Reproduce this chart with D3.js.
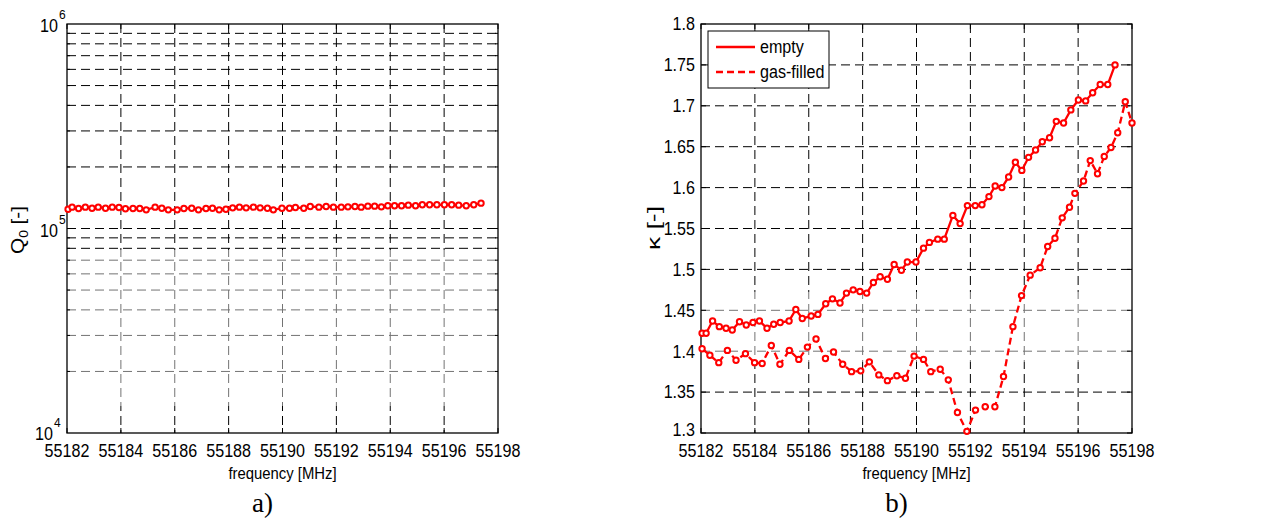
<!DOCTYPE html>
<html lang="en">
<head>
<meta charset="UTF-8">
<title>Q0 and kappa vs frequency</title>
<style>
  body { margin: 0; background: #fff; }
  text { font-family: "Liberation Sans", Arial, Helvetica, sans-serif; fill: #000; }
  .grid { stroke: #000; stroke-width: 1; stroke-dasharray: 9,5; fill: none; }
  .frame { fill: none; stroke: #000; stroke-width: 1.3; }
  .tick { stroke: #000; stroke-width: 1; }
  .series { fill: none; stroke: #ff0000; stroke-width: 2.3; }
  .marker { fill: #fff; stroke: #ff0000; stroke-width: 2; }
</style>
</head>
<body>
<svg width="1282" height="521"></svg>
<script src="https://cdn.jsdelivr.net/npm/d3@7/dist/d3.min.js"></script>
<script>
// frequency points of the empty cavity sweep (MHz), also used for Q0
var freq = [55182.04, 55182.19, 55182.43, 55182.68, 55182.93, 55183.16, 55183.43, 55183.68, 55183.93, 55184.17,
            55184.45, 55184.70, 55184.94, 55185.27, 55185.52, 55185.76, 55186.09, 55186.34, 55186.63, 55186.88,
            55187.16, 55187.40, 55187.65, 55187.90, 55188.15, 55188.40, 55188.65, 55188.92, 55189.17, 55189.44,
            55189.66, 55189.98, 55190.26, 55190.48, 55190.79, 55191.03, 55191.35, 55191.62, 55191.89, 55192.18,
            55192.43, 55192.69, 55192.92, 55193.17, 55193.42, 55193.67, 55193.91, 55194.16, 55194.42, 55194.67,
            55194.94, 55195.19, 55195.46, 55195.73, 55196.01, 55196.28, 55196.54, 55196.82, 55197.10, 55197.37];

// unloaded quality factor, in units of 1e5
var q0 = [1.243, 1.272, 1.253, 1.272, 1.257, 1.272, 1.257, 1.272, 1.267, 1.248,
          1.253, 1.253, 1.234, 1.272, 1.257, 1.234, 1.234, 1.253, 1.257, 1.234,
          1.253, 1.257, 1.234, 1.243, 1.262, 1.272, 1.262, 1.272, 1.262, 1.257,
          1.234, 1.257, 1.257, 1.267, 1.257, 1.281, 1.272, 1.281, 1.272, 1.272,
          1.276, 1.281, 1.272, 1.286, 1.286, 1.276, 1.291, 1.291, 1.291, 1.301,
          1.291, 1.306, 1.306, 1.306, 1.306, 1.306, 1.301, 1.291, 1.306, 1.330];

// coupling coefficient, empty cavity
var kappaEmpty = [1.422, 1.422, 1.437, 1.430, 1.428, 1.426, 1.436, 1.432, 1.435, 1.437,
                  1.428, 1.433, 1.435, 1.437, 1.451, 1.440, 1.443, 1.445, 1.458, 1.464,
                  1.459, 1.471, 1.475, 1.473, 1.471, 1.484, 1.491, 1.488, 1.506, 1.499,
                  1.509, 1.509, 1.526, 1.533, 1.537, 1.537, 1.566, 1.556, 1.578, 1.578,
                  1.579, 1.589, 1.602, 1.600, 1.613, 1.631, 1.621, 1.637, 1.646, 1.656,
                  1.661, 1.681, 1.679, 1.695, 1.707, 1.706, 1.716, 1.726, 1.726, 1.750];

// gas-filled sweep
var freqGas = [55182.04, 55182.33, 55182.66, 55182.98, 55183.30, 55183.65, 55183.99, 55184.27, 55184.61, 55184.93,
               55185.28, 55185.63, 55185.95, 55186.27, 55186.62, 55186.92, 55187.26, 55187.59, 55187.93, 55188.25,
               55188.60, 55188.92, 55189.27, 55189.59, 55189.91, 55190.26, 55190.53, 55190.88, 55191.18, 55191.52,
               55191.87, 55192.19, 55192.55, 55192.91, 55193.23, 55193.58, 55193.90, 55194.22, 55194.59, 55194.87,
               55195.14, 55195.41, 55195.68, 55195.88, 55196.20, 55196.45, 55196.72, 55196.97, 55197.22, 55197.47,
               55197.75, 55198.00];
var kappaGas = [1.403, 1.395, 1.386, 1.401, 1.389, 1.397, 1.386, 1.385, 1.407, 1.384,
                1.401, 1.390, 1.405, 1.415, 1.391, 1.399, 1.384, 1.375, 1.376, 1.387,
                1.371, 1.364, 1.370, 1.367, 1.394, 1.390, 1.375, 1.378, 1.365, 1.325,
                1.302, 1.328, 1.332, 1.332, 1.369, 1.430, 1.468, 1.493, 1.502, 1.528,
                1.538, 1.563, 1.576, 1.593, 1.608, 1.633, 1.617, 1.638, 1.649, 1.667,
                1.705, 1.679];

var freqTicks = [55182, 55184, 55186, 55188, 55190, 55192, 55194, 55196, 55198];
var q0Decades = [4, 5, 6];
var kappaTicks = [1.3, 1.35, 1.4, 1.45, 1.5, 1.55, 1.6, 1.65, 1.7, 1.75, 1.8];
var legendNames = ["empty", "gas-filled"];

var svg = d3.select("svg");
var TOP = 24, BOTTOM = 433;

// the original Helvetica is narrower than Liberation Sans: squeeze text a bit
function condense(sel, k) {
  sel.each(function () {
    var w = this.getComputedTextLength();
    d3.select(this).attr("textLength", w * k).attr("lengthAdjust", "spacingAndGlyphs");
  });
}

// ---------- scales ----------
var xa = d3.scaleLinear().domain([55182, 55198]).range([67, 498]);
var ya = d3.scaleLog().domain([1e4, 1e6]).range([BOTTOM, TOP]);
var xb = d3.scaleLinear().domain([55182, 55198]).range([701, 1132]);
var yb = d3.scaleLinear().domain([1.3, 1.8]).range([BOTTOM, TOP]);

var gridLayer = svg.append("g");

// log grid: every decade plus 2..9 minor values
var logGrid = [];
[1e4, 1e5].forEach(function (d) {
  for (var k = 1; k <= 10; k++) logGrid.push(d * k);
});
logGrid = logGrid.filter(function (v) { return v > 1e4 && v < 1e6; });

function grid(x, y, hVals) {
  gridLayer.append("g").selectAll("line").data(hVals).enter().append("line")
    .attr("class", "grid")
    .attr("x1", x.range()[0]).attr("x2", x.range()[1])
    .attr("y1", function (d) { return y(d); }).attr("y2", function (d) { return y(d); });
  gridLayer.append("g").selectAll("line").data(freqTicks.slice(1, -1)).enter().append("line")
    .attr("class", "grid")
    .attr("x1", function (d) { return x(d); }).attr("x2", function (d) { return x(d); })
    .attr("y1", TOP).attr("y2", BOTTOM);
}
grid(xa, ya, logGrid);
grid(xb, yb, kappaTicks.slice(1, -1));

// faint publisher watermark washing out part of the grid
svg.append("rect").attr("x", 60).attr("y", 250).attr("width", 445).attr("height", 156)
  .attr("rx", 10).attr("fill", "#fff").attr("opacity", 0.45);
svg.append("rect").attr("x", 700).attr("y", 292).attr("width", 440).attr("height", 70)
  .attr("fill", "#fff").attr("opacity", 0.45);

var ga = svg.append("g");
var gb = svg.append("g");

// frames and inward ticks
function frame(g, x, y, yTicks, minor) {
  var x0 = x.range()[0], x1 = x.range()[1];
  g.append("rect").attr("class", "frame")
    .attr("x", x0).attr("y", TOP).attr("width", x1 - x0).attr("height", BOTTOM - TOP);
  freqTicks.forEach(function (t) {
    g.append("line").attr("class", "tick").attr("x1", x(t)).attr("x2", x(t)).attr("y1", BOTTOM).attr("y2", BOTTOM - 5);
    g.append("line").attr("class", "tick").attr("x1", x(t)).attr("x2", x(t)).attr("y1", TOP).attr("y2", TOP + 5);
  });
  yTicks.forEach(function (t) {
    var len = minor && minor.indexOf(t) >= 0 ? 3 : 5;
    g.append("line").attr("class", "tick").attr("x1", x0).attr("x2", x0 + len).attr("y1", y(t)).attr("y2", y(t));
    g.append("line").attr("class", "tick").attr("x1", x1).attr("x2", x1 - len).attr("y1", y(t)).attr("y2", y(t));
  });
}
frame(ga, xa, ya, logGrid, logGrid.filter(function (v) { return v !== 1e5; }));
frame(gb, xb, yb, kappaTicks);

// x tick labels and titles for both panels
[[ga, xa, "a)"], [gb, xb, "b)"]].forEach(function (p) {
  var g = p[0], x = p[1];
  condense(g.selectAll(".xl").data(freqTicks).enter().append("text")
    .attr("x", function (d) { return x(d); }).attr("y", 457)
    .attr("text-anchor", "middle").attr("font-size", 17.5)
    .text(function (d) { return d; }), 0.92);
  var mid = (x.range()[0] + x.range()[1]) / 2;
  condense(g.append("text").attr("x", mid).attr("y", 479)
    .attr("text-anchor", "middle").attr("font-size", 16.5)
    .text("frequency [MHz]"), 0.9);
  g.append("text").attr("x", mid - 20).attr("y", 512)
    .attr("text-anchor", "middle").attr("font-size", 27)
    .style("font-family", "'Liberation Serif', 'DejaVu Serif', serif")
    .text(p[2]);
});

// y tick labels a): powers of ten
var dec = ga.selectAll(".yl").data(q0Decades).enter().append("g")
  .attr("transform", function (d) {
    var yy = ya(Math.pow(10, d));
    return d === 4 ? "translate(-5," + (yy - 1) + ")" : "translate(0," + yy + ")";
  });
condense(dec.append("text").attr("x", 58).attr("y", 8).attr("text-anchor", "end").attr("font-size", 17.5).text("10"), 0.92);
dec.append("text").attr("x", 59).attr("y", -5).attr("font-size", 12).text(function (d) { return d; });

// y tick labels b)
condense(gb.selectAll(".yl").data(kappaTicks).enter().append("text")
  .attr("x", 695).attr("y", function (d) { return yb(d) - (d === 1.3 ? 3 : 0); }).attr("dy", "0.36em")
  .attr("text-anchor", "end").attr("font-size", 17.5)
  .text(function (d) { return d3.format("~g")(d); }), 0.92);

// y axis titles
var qt = ga.append("text").attr("transform", "translate(24,230) rotate(-90)")
  .attr("text-anchor", "middle").attr("font-size", 18);
qt.append("tspan").text("Q");
qt.append("tspan").attr("font-size", 12).attr("dy", 4).text("0");
qt.append("tspan").attr("dy", -4).text(" [-]");
qt.attr("textLength", 48).attr("lengthAdjust", "spacingAndGlyphs");
gb.append("text").attr("transform", "translate(660,228) rotate(-90)")
  .attr("text-anchor", "middle").attr("font-size", 18)
  .attr("textLength", 44).attr("lengthAdjust", "spacingAndGlyphs")
  .text("\u03ba [-]");

// ---------- data ----------
var qData = freq.map(function (f, i) { return { x: f, y: q0[i] * 1e5 }; });
var eData = freq.map(function (f, i) { return { x: f, y: kappaEmpty[i] }; });
var gData = freqGas.map(function (f, i) { return { x: f, y: kappaGas[i] }; });

function plot(g, data, x, y, dashed) {
  var line = d3.line().x(function (d) { return x(d.x); }).y(function (d) { return y(d.y); });
  g.append("path").datum(data).attr("class", "series")
    .attr("stroke-dasharray", dashed ? "7,4" : null)
    .attr("d", line);
  g.append("g").selectAll("circle").data(data).enter().append("circle").attr("class", "marker")
    .attr("cx", function (d) { return x(d.x); }).attr("cy", function (d) { return y(d.y); })
    .attr("r", 2.7);
}
plot(ga, qData, xa, ya, false);
plot(gb, gData, xb, yb, true);
plot(gb, eData, xb, yb, false);

// legend
var lg = gb.append("g");
lg.append("rect").attr("x", 708).attr("y", 31).attr("width", 121).attr("height", 57)
  .attr("fill", "#fff").attr("stroke", "#000").attr("stroke-width", 1);
legendNames.forEach(function (name, i) {
  var yy = 47 + i * 25;
  lg.append("line").attr("class", "series").attr("x1", 716).attr("x2", 755)
    .attr("y1", yy).attr("y2", yy).attr("stroke-dasharray", i ? "7,4" : null);
  condense(lg.append("text").attr("x", 760).attr("y", yy + 6).attr("font-size", 17.5).text(name), 0.92);
});
</script>
</body>
</html>
